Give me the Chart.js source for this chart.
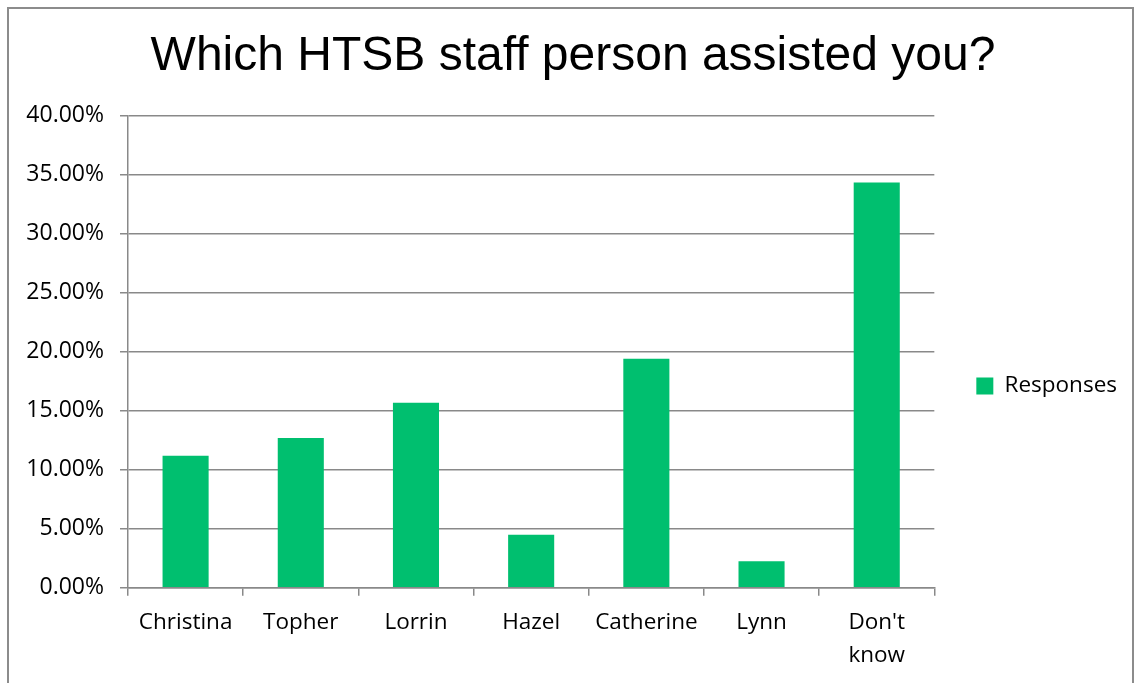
<!DOCTYPE html>
<html>
<head>
<meta charset="utf-8">
<script src="https://cdn.jsdelivr.net/npm/chart.js@4"></script>
<style>
  html, body { margin: 0; padding: 0; background: #fff; overflow: hidden; }
  #wrap { width: 1135px; height: 683px; position: relative; }
</style>
</head>
<body>
<div id="wrap"><canvas id="myChart"></canvas></div>
<script>
const staff = ["Christina", "Topher", "Lorrin", "Hazel", "Catherine", "Lynn", ["Don't", "know"]];
const responses = [11.19, 12.69, 15.67, 4.48, 19.40, 2.24, 34.33];
const yTicks = [0, 5, 10, 15, 20, 25, 30, 35, 40];

const gridColor = "#898989";
const barColor = "#00bf6f";

// outer frame of the chart box
const frame = {
  id: "frame",
  beforeDraw(chart) {
    const c = chart.ctx;
    c.save();
    c.fillStyle = "#fff";
    c.fillRect(0, 0, chart.width, chart.height);
    c.strokeStyle = "#8c8c8c";
    c.lineWidth = 2;
    c.strokeRect(8, 8, 1125, 800);
    c.restore();
  }
};

const ctx = document.getElementById("myChart");
var chart = new Chart(ctx, {
  type: "bar",
  data: {
    labels: staff,
    datasets: [
      {
        label: "Responses",
        backgroundColor: barColor,
        data: responses,
        borderWidth: 0,
        barPercentage: 0.4,
        categoryPercentage: 1,
      },
    ],
  },
  options: {
    responsive: true,
    maintainAspectRatio: false,
    animation: false,
    layout: {
      padding: { left: 19, right: 8, top: 0, bottom: 0 },
    },
    scales: {
      x: {
        grid: {
          display: true,
          drawOnChartArea: false,
          drawTicks: true,
          tickLength: 8,
          color: gridColor,
          lineWidth: 1.5,
        },
        border: { color: gridColor, width: 1.5 },
        ticks: {
          color: "#000",
          padding: 11,
          maxRotation: 0,
          autoSkip: false,
          font: { family: "Open Sans", size: 22.5, lineHeight: 1.45 },
        },
      },
      y: {
        min: 0,
        max: 40,
        afterBuildTicks(scale) {
          scale.ticks = yTicks.map(v => ({ value: v }));
        },
        afterFit(scale) {
          scale.width = 109;
        },
        grid: {
          color: gridColor,
          lineWidth: 1.5,
          tickLength: 8,
        },
        border: { color: gridColor, width: 1.5 },
        ticks: {
          color: "#000",
          padding: 16,
          font: { family: "Open Sans", size: 23 },
          callback: v => v.toFixed(2) + "%",
        },
      },
    },
    plugins: {
      title: {
        display: true,
        text: "Which HTSB staff person assisted you?",
        color: "#000",
        font: { family: "Liberation Sans", size: 48, weight: "normal", lineHeight: 1.2 },
        padding: { top: 28, bottom: 30 },
      },
      legend: {
        position: "right",
        maxWidth: 200,
        title: {
          display: true,
          text: "",
          font: { size: 10, lineHeight: 1 },
          padding: { top: 79, bottom: 0 },
        },
        labels: {
          color: "#000",
          boxWidth: 17,
          boxHeight: 17,
          padding: 42,
          font: { family: "Open Sans", size: 22.5 },
        },
      },
      tooltip: { enabled: false },
    },
  },
  plugins: [frame],
});
</script>
</body>
</html>
